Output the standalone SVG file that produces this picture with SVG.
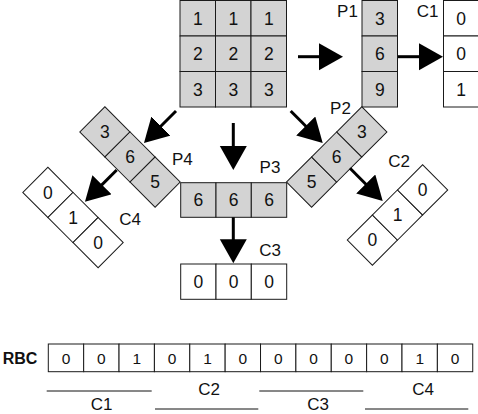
<svg xmlns="http://www.w3.org/2000/svg" width="478" height="414" viewBox="0 0 478 414">
<style>
.g{fill:#d3d3d3;stroke:#1a1a1a;stroke-width:1}
.w{fill:#fff;stroke:#1a1a1a;stroke-width:1}
.d{font-family:"Liberation Sans",Arial,sans-serif;font-size:17.5px;fill:#111;text-anchor:middle}
.r{font-family:"Liberation Sans",Arial,sans-serif;font-size:15.5px;fill:#111;text-anchor:middle}
.l{font-family:"Liberation Sans",Arial,sans-serif;font-size:17px;fill:#111;text-anchor:middle}
.b{font-family:"Liberation Sans",Arial,sans-serif;font-size:16px;font-weight:bold;fill:#111;text-anchor:middle}
.a{stroke:#000;stroke-width:3;fill:none;marker-end:url(#h)}
.u{stroke:#111;stroke-width:1}
</style>
<defs>
<marker id="h" markerUnits="userSpaceOnUse" markerWidth="26" markerHeight="28" refX="8" refY="13.5" orient="auto">
<path d="M0,0 L24,13.5 L0,27 Z" fill="#000"/>
</marker>
</defs>

<g id="grid">
<rect class="g" x="180" y="0.5" width="35.5" height="35.5"/>
<rect class="g" x="215.5" y="0.5" width="35.5" height="35.5"/>
<rect class="g" x="251" y="0.5" width="35.5" height="35.5"/>
<rect class="g" x="180" y="36" width="35.5" height="35.5"/>
<rect class="g" x="215.5" y="36" width="35.5" height="35.5"/>
<rect class="g" x="251" y="36" width="35.5" height="35.5"/>
<rect class="g" x="180" y="71.5" width="35.5" height="35.5"/>
<rect class="g" x="215.5" y="71.5" width="35.5" height="35.5"/>
<rect class="g" x="251" y="71.5" width="35.5" height="35.5"/>
<text class="d" x="197.75" y="24.5">1</text><text class="d" x="233.25" y="24.5">1</text><text class="d" x="268.75" y="24.5">1</text>
<text class="d" x="197.75" y="60">2</text><text class="d" x="233.25" y="60">2</text><text class="d" x="268.75" y="60">2</text>
<text class="d" x="197.75" y="95.5">3</text><text class="d" x="233.25" y="95.5">3</text><text class="d" x="268.75" y="95.5">3</text>
</g>

<g id="P1">
<rect class="g" x="362" y="0.5" width="35.5" height="35.5"/>
<rect class="g" x="362" y="36" width="35.5" height="35.5"/>
<rect class="g" x="362" y="71.5" width="35.5" height="35.5"/>
<text class="d" x="379.75" y="24.5">3</text>
<text class="d" x="379.75" y="60">6</text>
<text class="d" x="379.75" y="95.5">9</text>
<text class="l" x="347.5" y="16.7">P1</text>
</g>

<g id="C1">
<rect class="w" x="443.5" y="0.5" width="35.5" height="35.5"/>
<rect class="w" x="443.5" y="36" width="35.5" height="35.5"/>
<rect class="w" x="443.5" y="71.5" width="35.5" height="35.5"/>
<text class="d" x="461" y="24.5">0</text>
<text class="d" x="461" y="60">0</text>
<text class="d" x="461" y="95.5">1</text>
<text class="l" x="427.5" y="16.7">C1</text>
</g>

<g id="P4">
<g transform="translate(130,157) rotate(45)">
<rect class="g" x="-53.25" y="-17.75" width="35.5" height="35.5"/>
<rect class="g" x="-17.75" y="-17.75" width="35.5" height="35.5"/>
<rect class="g" x="17.75" y="-17.75" width="35.5" height="35.5"/>
</g>
<text class="d" x="104.9" y="138.1">3</text>
<text class="d" x="130" y="163.2">6</text>
<text class="d" x="155.1" y="188.3">5</text>
<text class="l" x="182.3" y="165">P4</text>
</g>

<g id="P3">
<rect class="g" x="180.7" y="182.7" width="35.3" height="34.6"/>
<rect class="g" x="216" y="182.7" width="35.3" height="34.6"/>
<rect class="g" x="251.3" y="182.7" width="35.4" height="34.6"/>
<text class="d" x="198.4" y="206.2">6</text>
<text class="d" x="233.7" y="206.2">6</text>
<text class="d" x="269" y="206.2">6</text>
<text class="l" x="270" y="173">P3</text>
</g>

<g id="P2">
<g transform="translate(336.7,157) rotate(-45)">
<rect class="g" x="-53.25" y="-17.75" width="35.5" height="35.5"/>
<rect class="g" x="-17.75" y="-17.75" width="35.5" height="35.5"/>
<rect class="g" x="17.75" y="-17.75" width="35.5" height="35.5"/>
</g>
<text class="d" x="311.6" y="188.3">5</text>
<text class="d" x="336.7" y="163.2">6</text>
<text class="d" x="361.8" y="138.1">3</text>
<text class="l" x="340.5" y="114">P2</text>
</g>

<g id="C4">
<g transform="translate(73,217.5) rotate(45)">
<rect class="w" x="-53.25" y="-17.75" width="35.5" height="35.5"/>
<rect class="w" x="-17.75" y="-17.75" width="35.5" height="35.5"/>
<rect class="w" x="17.75" y="-17.75" width="35.5" height="35.5"/>
</g>
<text class="d" x="47.9" y="198.6">0</text>
<text class="d" x="73" y="223.7">1</text>
<text class="d" x="98.1" y="248.8">0</text>
<text class="l" x="130" y="225">C4</text>
</g>

<g id="C2">
<g transform="translate(397.5,215) rotate(-45)">
<rect class="w" x="-53.25" y="-17.75" width="35.5" height="35.5"/>
<rect class="w" x="-17.75" y="-17.75" width="35.5" height="35.5"/>
<rect class="w" x="17.75" y="-17.75" width="35.5" height="35.5"/>
</g>
<text class="d" x="372.4" y="246.3">0</text>
<text class="d" x="397.5" y="221.2">1</text>
<text class="d" x="422.6" y="196.1">0</text>
<text class="l" x="399" y="167.3">C2</text>
</g>

<g id="C3">
<rect class="w" x="180.7" y="264" width="35.3" height="35.3"/>
<rect class="w" x="216" y="264" width="35.3" height="35.3"/>
<rect class="w" x="251.3" y="264" width="35.4" height="35.3"/>
<text class="d" x="198.4" y="287.8">0</text>
<text class="d" x="233.7" y="287.8">0</text>
<text class="d" x="269" y="287.8">0</text>
<text class="l" x="270" y="255.7">C3</text>
</g>

<g id="connectors">
<line class="a" x1="298" y1="56.7" x2="327" y2="56.7"/>
<line class="a" x1="398" y1="56.7" x2="427" y2="56.7"/>
<line class="a" x1="176" y1="111" x2="155.3" y2="131.7"/>
<line class="a" x1="233.3" y1="123" x2="233.3" y2="154"/>
<line class="a" x1="290.7" y1="111" x2="311.4" y2="131.7"/>
<line class="a" x1="116.7" y1="170" x2="96.3" y2="190.4"/>
<line class="a" x1="350" y1="168.3" x2="371.4" y2="189.7"/>
<line class="a" x1="233.3" y1="217.3" x2="233.3" y2="247.3"/>
</g>

<g id="RBC">
<text class="b" x="20" y="364">RBC</text>
<rect class="w" x="48.3" y="344" width="35.37" height="27.7"/>
<rect class="w" x="83.67" y="344" width="35.37" height="27.7"/>
<rect class="w" x="119.04" y="344" width="35.37" height="27.7"/>
<rect class="w" x="154.41" y="344" width="35.37" height="27.7"/>
<rect class="w" x="189.78" y="344" width="35.37" height="27.7"/>
<rect class="w" x="225.15" y="344" width="35.37" height="27.7"/>
<rect class="w" x="260.52" y="344" width="35.37" height="27.7"/>
<rect class="w" x="295.89" y="344" width="35.37" height="27.7"/>
<rect class="w" x="331.26" y="344" width="35.37" height="27.7"/>
<rect class="w" x="366.63" y="344" width="35.37" height="27.7"/>
<rect class="w" x="402" y="344" width="35.37" height="27.7"/>
<rect class="w" x="437.37" y="344" width="35.37" height="27.7"/>
<text class="r" x="66" y="364.3">0</text>
<text class="r" x="101.4" y="364.3">0</text>
<text class="r" x="136.7" y="364.3">1</text>
<text class="r" x="172.1" y="364.3">0</text>
<text class="r" x="207.5" y="364.3">1</text>
<text class="r" x="242.8" y="364.3">0</text>
<text class="r" x="278.2" y="364.3">0</text>
<text class="r" x="313.6" y="364.3">0</text>
<text class="r" x="348.9" y="364.3">0</text>
<text class="r" x="384.3" y="364.3">0</text>
<text class="r" x="419.7" y="364.3">1</text>
<text class="r" x="455" y="364.3">0</text>
<line class="u" x1="46.7" y1="391" x2="151.7" y2="391"/>
<line class="u" x1="155" y1="409" x2="258.3" y2="409"/>
<line class="u" x1="259.3" y1="391" x2="363.3" y2="391"/>
<line class="u" x1="365" y1="409" x2="468.3" y2="409"/>
<text class="l" x="101.7" y="410">C1</text>
<text class="l" x="209" y="395">C2</text>
<text class="l" x="318" y="410">C3</text>
<text class="l" x="423" y="395">C4</text>
</g>
</svg>
